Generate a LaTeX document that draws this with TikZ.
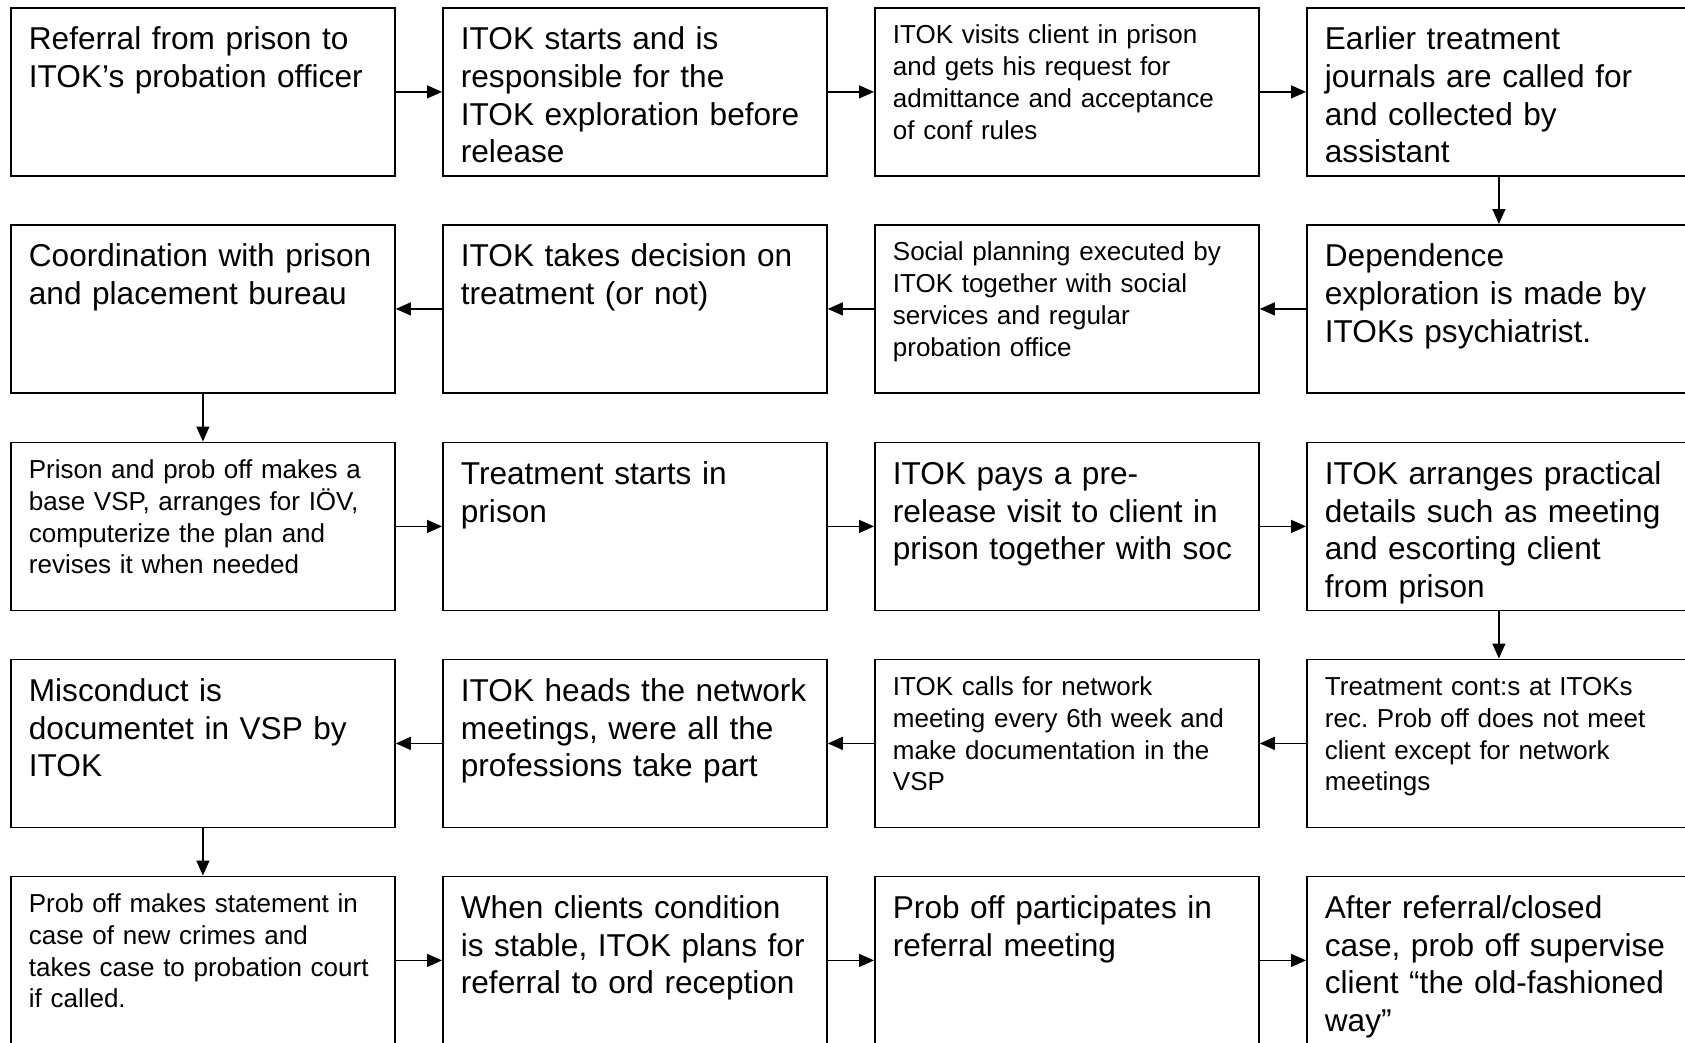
\documentclass[tikz,border=0pt]{standalone}
\usepackage{fontspec}
\setmainfont{Liberation Sans}
\frenchspacing
\usetikzlibrary{arrows.meta}
\tikzset{
      stepbig/.style={draw=black, line width=1.8, anchor=north west, align=left,
            text width=348pt, inner xsep=18pt, inner ysep=0pt,
            font=\fontsize{31.6}{37.6}\selectfont, text height=42pt, text depth=126pt},
      stepsmall/.style={stepbig, font=\fontsize{26}{31.8}\selectfont,
            text height=36pt, text depth=132pt},
      flow/.style={draw=black, line width=1.3, -{Triangle[length=15pt,width=13pt]}},
}

\begin{document}
\begin{tikzpicture}[x=1pt,y=-1pt]
        \useasboundingbox (0,0) rectangle (1685,1042);

        % Row 1
        \node[stepbig] (referral) at (10,7) {Referral from prison to\\ITOK’s probation officer};
        \node[stepbig] (exploration) at (442,7) {ITOK starts and is\\responsible for the\\ITOK exploration before\\release};
        \node[stepsmall] (visit) at (874,7) {ITOK visits client in prison\\and gets his request for\\admittance and acceptance\\of conf rules};
        \node[stepbig] (journals) at (1306,7) {Earlier treatment\\journals are called for\\and collected by\\assistant};

        % Row 2
        \node[stepbig] (coordination) at (10,224) {Coordination with prison\\and placement bureau};
        \node[stepbig] (decision) at (442,224) {ITOK takes decision on\\treatment (or not)};
        \node[stepsmall] (socialplan) at (874,224) {Social planning executed by\\ITOK together with social\\services and regular\\probation office};
        \node[stepbig] (dependence) at (1306,224) {Dependence\\exploration is made by\\ITOKs psychiatrist.};

        % Row 3
        \node[stepsmall] (baseplan) at (10,441.5) {Prison and prob off makes a\\base VSP, arranges for IÖV,\\computerize the plan and\\revises it when needed};
        \node[stepbig] (treatstart) at (442,441.5) {Treatment starts in\\prison};
        \node[stepbig] (previsit) at (874,441.5) {ITOK pays a pre-\\release visit to client in\\prison together with soc};
        \node[stepbig] (escort) at (1306,441.5) {ITOK arranges practical\\details such as meeting\\and escorting client\\from prison};

        % Row 4
        \node[stepbig] (misconduct) at (10,658.5) {Misconduct is\\documentet in VSP by\\ITOK};
        \node[stepbig] (netheads) at (442,658.5) {ITOK heads the network\\meetings, were all the\\professions take part};
        \node[stepsmall] (netcall) at (874,658.5) {ITOK calls for network\\meeting every 6th week and\\make documentation in the\\VSP};
        \node[stepsmall] (treatcont) at (1306,658.5) {Treatment cont:s at ITOKs\\rec. Prob off does not meet\\client except for network\\meetings};

        % Row 5
        \node[stepsmall] (statement) at (10,875.5) {Prob off makes statement in\\case of new crimes and\\takes case to probation court\\if called.};
        \node[stepbig] (stable) at (442,875.5) {When clients condition\\is stable, ITOK plans for\\referral to ord reception};
        \node[stepbig] (refmeeting) at (874,875.5) {Prob off participates in\\referral meeting};
        \node[stepbig] (oldway) at (1306,875.5) {After referral/closed\\case, prob off supervise\\client “the old-fashioned\\way”};

        % Draw the flow
        \draw[flow] (referral) -- (exploration);
        \draw[flow] (exploration) -- (visit);
        \draw[flow] (visit) -- (journals);
        \draw[flow] (journals) -- (dependence);

        \draw[flow] (dependence) -- (socialplan);
        \draw[flow] (socialplan) -- (decision);
        \draw[flow] (decision) -- (coordination);
        \draw[flow] (coordination) -- (baseplan);

        \draw[flow] (baseplan) -- (treatstart);
        \draw[flow] (treatstart) -- (previsit);
        \draw[flow] (previsit) -- (escort);
        \draw[flow] (escort) -- (treatcont);

        \draw[flow] (treatcont) -- (netcall);
        \draw[flow] (netcall) -- (netheads);
        \draw[flow] (netheads) -- (misconduct);
        \draw[flow] (misconduct) -- (statement);

        \draw[flow] (statement) -- (stable);
        \draw[flow] (stable) -- (refmeeting);
        \draw[flow] (refmeeting) -- (oldway);

\end{tikzpicture}
\end{document}
